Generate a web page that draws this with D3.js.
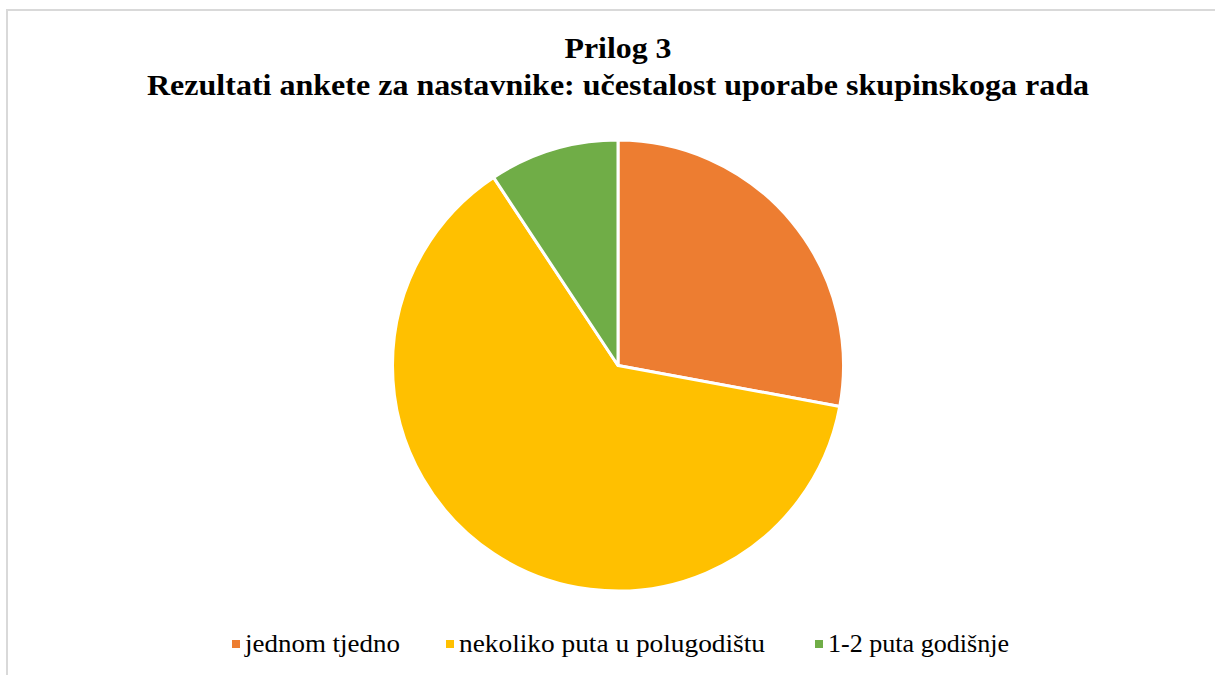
<!DOCTYPE html>
<html>
<head>
    <meta charset="utf-8">
    <title>Prilog 3</title>
    <script src="https://cdn.jsdelivr.net/npm/d3@7"></script>
    <style>
        html, body { margin: 0; background: #fff; }
        svg { display: block; }
    </style>
</head>
<body>
<svg id="chart"></svg>
<script>
    var categories = ["jednom tjedno", "nekoliko puta u polugodištu", "1-2 puta godišnje"];
    var values = [12, 27, 4];
    var colors = ["#ED7D31", "#FFC000", "#70AD47"];
    var titleLines = ["Prilog 3", "Rezultati ankete za nastavnike: učestalost uporabe skupinskoga rada"];

    var w = 1215, h = 675;
    var cx = 618, cy = 365.5, r = 225.5;
    var font = "Liberation Serif";

    var svg = d3.select("#chart").attr("width", w).attr("height", h);

    // chart frame (runs past right and bottom edges)
    svg.append("rect")
        .attr("x", 7).attr("y", 10)
        .attr("width", w + 20).attr("height", h + 20)
        .attr("fill", "none")
        .attr("stroke", "#d9d9d9")
        .attr("stroke-width", 2);

    // the reference text is squeezed sideways, so fit widths
    var titleWidths = [107, 942];
    svg.selectAll("text.title")
        .data(titleLines)
        .enter().append("text")
        .attr("class", "title")
        .attr("x", cx)
        .attr("y", function(d, i){ return 58 + i * 37; })
        .attr("text-anchor", "middle")
        .attr("font-family", font)
        .attr("font-weight", "bold")
        .attr("font-size", "30px")
        .attr("textLength", function(d, i){ return titleWidths[i]; })
        .attr("lengthAdjust", "spacingAndGlyphs")
        .text(function(d){ return d; });

    var pie = d3.pie().sort(null).value(function(d){ return d; });
    var arc = d3.arc().innerRadius(0).outerRadius(r);

    svg.append("g")
        .attr("transform", "translate(" + cx + "," + cy + ")")
        .selectAll("path")
        .data(pie(values))
        .enter().append("path")
        .attr("d", arc)
        .attr("fill", function(d, i){ return colors[i]; })
        .attr("stroke", "#fff")
        .attr("stroke-width", 3)
        .attr("stroke-linejoin", "round");

    // legend
    var legendX = [232, 446, 815];
    var legendW = [155, 306, 181];
    var legend = svg.append("g").selectAll("g")
        .data(categories)
        .enter().append("g")
        .attr("transform", function(d, i){ return "translate(" + legendX[i] + ",652)"; });

    legend.append("rect")
        .attr("x", 0).attr("y", -12)
        .attr("width", 8).attr("height", 8)
        .attr("fill", function(d, i){ return colors[i]; });

    legend.append("text")
        .attr("x", 13)
        .attr("y", 0)
        .attr("font-family", font)
        .attr("font-size", "26px")
        .attr("fill", "#000")
        .attr("textLength", function(d, i){ return legendW[i]; })
        .attr("lengthAdjust", "spacingAndGlyphs")
        .text(function(d){ return d; });
</script>
</body>
</html>
